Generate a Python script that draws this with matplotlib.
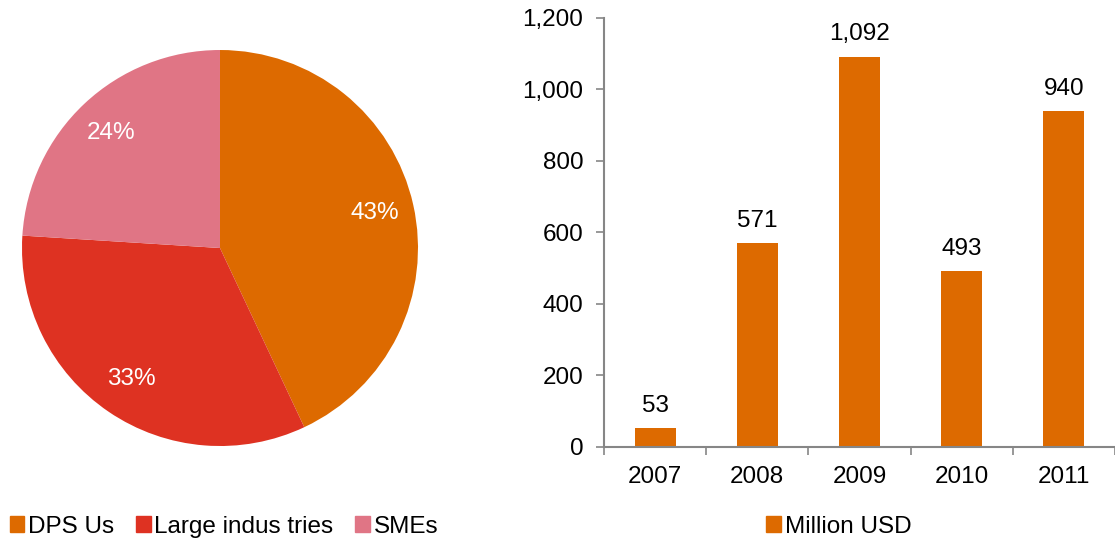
import numpy as np
import matplotlib.pyplot as plt
from matplotlib.patches import Patch
from matplotlib.ticker import FuncFormatter

plt.rcParams['font.family'] = ['Liberation Sans', 'DejaVu Sans']

# pie data
segments = ['DPS Us', 'Large indus tries', 'SMEs']
shares = [43, 33, 24]
pie_colors = ['#DD6A00', '#DE3222', '#E07585']

# bar data
years = ['2007', '2008', '2009', '2010', '2011']
million_usd = [53, 571, 1092, 493, 940]
bar_color = '#DD6A00'
axis_grey = '#868686'

fs = 17.5

fig = plt.figure(figsize=(11.15, 5.43), dpi=100)

# Pie chart
ax1 = fig.add_axes([0.0197, 0.1786, 0.3552, 0.7293])
ax1.pie(shares, colors=pie_colors, startangle=90, counterclock=False,
        autopct='%d%%', pctdistance=0.8,
        textprops=dict(color='white', fontsize=fs))
ax1.set_xlim(-1, 1)
ax1.set_ylim(-1, 1)
ax1.set_aspect('equal')

# Bar chart
ax2 = fig.add_axes([0.5417, 0.1768, 0.4583, 0.7901])
x = np.arange(len(years))
ax2.bar(x, million_usd, width=0.4, color=bar_color)
for xi, v in zip(x, million_usd):
    ax2.annotate(f'{v:,}', (xi, v), xytext=(0, 8), textcoords='offset points',
                 ha='center', va='bottom', fontsize=fs)

ax2.set_xlim(-0.5, len(years) - 0.5)
ax2.set_ylim(0, 1200)
ax2.set_yticks(np.arange(0, 1201, 200))
ax2.yaxis.set_major_formatter(FuncFormatter(lambda v, p: f'{int(v):,}'))
ax2.set_xticks(x)
ax2.set_xticklabels(years)
ax2.set_xticks(np.arange(-0.5, len(years), 1), minor=True)
ax2.tick_params(axis='x', which='major', length=0, pad=14, labelsize=fs)
ax2.tick_params(axis='x', which='minor', length=6, color=axis_grey, width=1.2)
ax2.tick_params(axis='y', length=6, color=axis_grey, width=1.2, pad=9, labelsize=fs)
for s in ['top', 'right']:
    ax2.spines[s].set_visible(False)
for s in ['left', 'bottom']:
    ax2.spines[s].set_color(axis_grey)
    ax2.spines[s].set_linewidth(1.5)

# Legends
pie_handles = [Patch(color=c, label=l) for c, l in zip(pie_colors, segments)]
fig.legend(handles=pie_handles, loc='center left', bbox_to_anchor=(0.0, 0.03),
           ncol=3, frameon=False, fontsize=fs, handlelength=0.6, handleheight=0.6,
           handletextpad=0.15, columnspacing=0.9, borderaxespad=0)
fig.legend(handles=[Patch(color=bar_color, label='Million USD')], loc='center left',
           bbox_to_anchor=(0.6786, 0.03), frameon=False, fontsize=fs,
           handlelength=0.6, handleheight=0.6, handletextpad=0.15, borderaxespad=0)

fig.savefig('out.png', dpi=100)
